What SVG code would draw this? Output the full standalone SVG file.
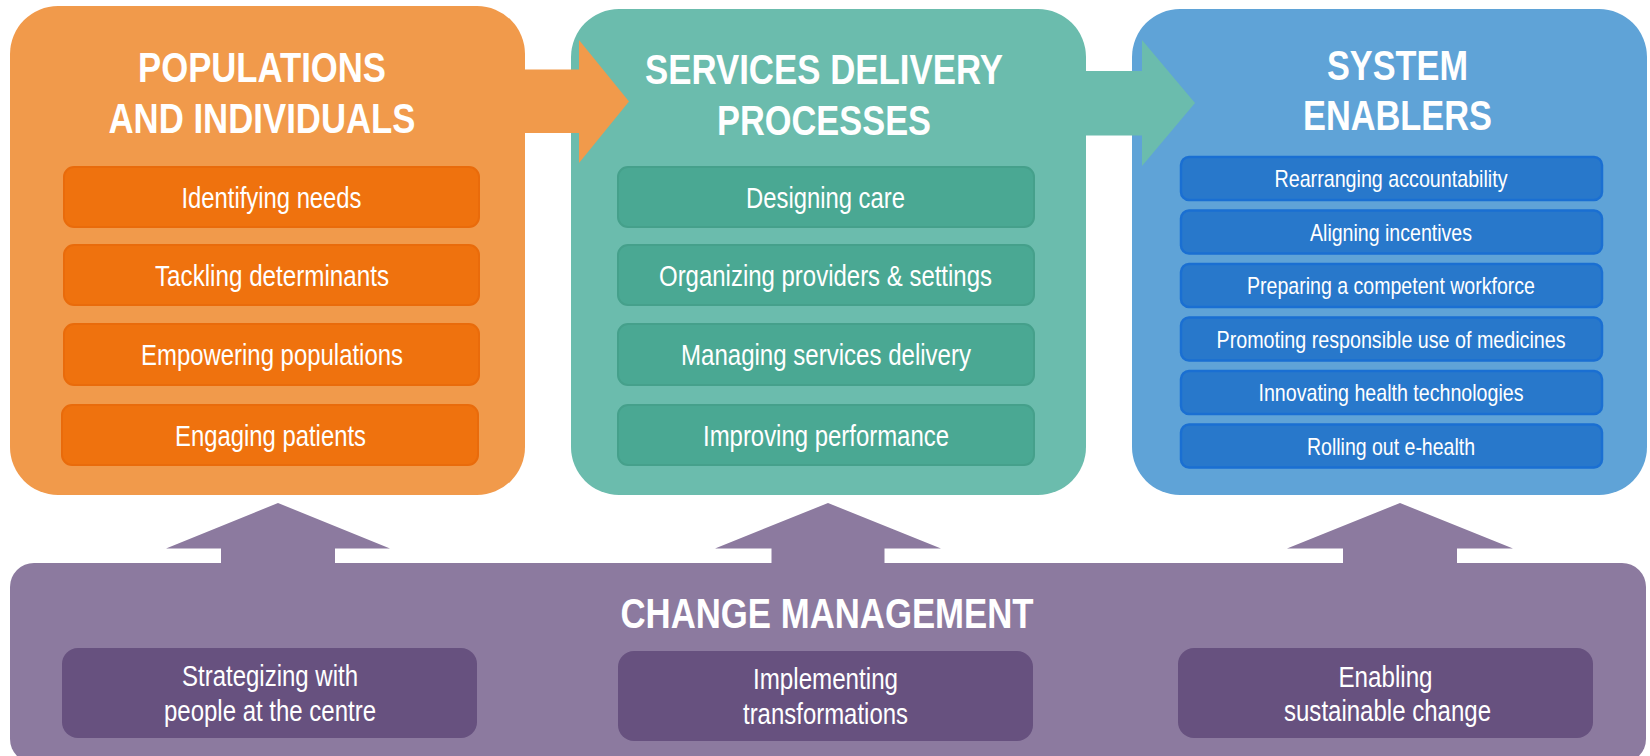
<svg xmlns="http://www.w3.org/2000/svg" width="1650" height="756" viewBox="0 0 1650 756">
<style>
text{font-family:"Liberation Sans Narrow","Arial Narrow","Liberation Sans",Arial,sans-serif;fill:#fff;text-anchor:middle}
.t{font-size:42px;font-weight:bold}
.s{font-size:29px}
.b{font-size:24px}
.ob{fill:#F19A4B}
.os{fill:#EF720E;stroke:#E96B0B;stroke-width:2}
.tb{fill:#6BBCAD}
.ts{fill:#4AA893;stroke:#45A08B;stroke-width:2}
.bb{fill:#5FA3D7}
.bs{fill:#2878CB;stroke:#1A6FD2;stroke-width:2.5}
.pb{fill:#8C7A9F}
.ps{fill:#67517F}
</style>
<g id="populations">
<rect class="ob" x="10" y="6" width="515" height="489" rx="48"/>
<text class="t" x="262" y="82" textLength="248" lengthAdjust="spacingAndGlyphs">POPULATIONS</text>
<text class="t" x="262" y="133" textLength="307" lengthAdjust="spacingAndGlyphs">AND INDIVIDUALS</text>
<rect class="os" x="64" y="167" width="415" height="60" rx="10"/>
<text class="s" x="271.5" y="208" textLength="180" lengthAdjust="spacingAndGlyphs">Identifying needs</text>
<rect class="os" x="64" y="245" width="415" height="60" rx="10"/>
<text class="s" x="272" y="286" textLength="234" lengthAdjust="spacingAndGlyphs">Tackling determinants</text>
<rect class="os" x="64" y="324" width="415" height="61" rx="10"/>
<text class="s" x="272" y="365" textLength="262" lengthAdjust="spacingAndGlyphs">Empowering populations</text>
<rect class="os" x="62" y="405" width="416" height="60" rx="10"/>
<text class="s" x="270.5" y="446" textLength="191" lengthAdjust="spacingAndGlyphs">Engaging patients</text>
</g>
<g id="services">
<rect class="tb" x="571" y="9" width="515" height="486" rx="48"/>
<text class="t" x="824" y="84" textLength="358" lengthAdjust="spacingAndGlyphs">SERVICES DELIVERY</text>
<text class="t" x="824" y="135" textLength="214" lengthAdjust="spacingAndGlyphs">PROCESSES</text>
<rect class="ts" x="618" y="167" width="416" height="60" rx="10"/>
<text class="s" x="825.5" y="208" textLength="159" lengthAdjust="spacingAndGlyphs">Designing care</text>
<rect class="ts" x="618" y="245" width="416" height="60" rx="10"/>
<text class="s" x="825.5" y="286" textLength="333" lengthAdjust="spacingAndGlyphs">Organizing providers &amp; settings</text>
<rect class="ts" x="618" y="324" width="416" height="61" rx="10"/>
<text class="s" x="826" y="365" textLength="290" lengthAdjust="spacingAndGlyphs">Managing services delivery</text>
<rect class="ts" x="618" y="405" width="416" height="60" rx="10"/>
<text class="s" x="826" y="446" textLength="246" lengthAdjust="spacingAndGlyphs">Improving performance</text>
</g>
<g id="enablers">
<rect class="bb" x="1132" y="9" width="515" height="486" rx="48"/>
<text class="t" x="1397.5" y="80" textLength="141" lengthAdjust="spacingAndGlyphs">SYSTEM</text>
<text class="t" x="1397.5" y="130" textLength="189" lengthAdjust="spacingAndGlyphs">ENABLERS</text>
<rect class="bs" x="1181" y="157" width="421" height="43" rx="8"/>
<text class="b" x="1391" y="187" textLength="233" lengthAdjust="spacingAndGlyphs">Rearranging accountability</text>
<rect class="bs" x="1181" y="210.5" width="421" height="43" rx="8"/>
<text class="b" x="1391" y="240.5" textLength="162" lengthAdjust="spacingAndGlyphs">Aligning incentives</text>
<rect class="bs" x="1181" y="264" width="421" height="43" rx="8"/>
<text class="b" x="1391" y="294" textLength="288" lengthAdjust="spacingAndGlyphs">Preparing a competent workforce</text>
<rect class="bs" x="1181" y="317.5" width="421" height="43" rx="8"/>
<text class="b" x="1391" y="347.5" textLength="349" lengthAdjust="spacingAndGlyphs">Promoting responsible use of medicines</text>
<rect class="bs" x="1181" y="371" width="421" height="43" rx="8"/>
<text class="b" x="1391" y="401" textLength="265" lengthAdjust="spacingAndGlyphs">Innovating health technologies</text>
<rect class="bs" x="1181" y="424.5" width="421" height="43" rx="8"/>
<text class="b" x="1391" y="454.5" textLength="168" lengthAdjust="spacingAndGlyphs">Rolling out e-health</text>
</g>
<g id="change">
<rect class="pb" x="10" y="563" width="1636" height="200" rx="24"/>
<text class="t" x="827" y="628" textLength="413" lengthAdjust="spacingAndGlyphs">CHANGE MANAGEMENT</text>
<rect class="ps" x="62" y="648" width="415" height="90" rx="16"/>
<text class="s" x="270" y="686" textLength="176" lengthAdjust="spacingAndGlyphs">Strategizing with</text>
<text class="s" x="270" y="721" textLength="212" lengthAdjust="spacingAndGlyphs">people at the centre</text>
<rect class="ps" x="618" y="651" width="415" height="90" rx="16"/>
<text class="s" x="825.5" y="689" textLength="145" lengthAdjust="spacingAndGlyphs">Implementing</text>
<text class="s" x="825.5" y="724" textLength="165" lengthAdjust="spacingAndGlyphs">transformations</text>
<rect class="ps" x="1178" y="648" width="415" height="90" rx="16"/>
<text class="s" x="1385.5" y="687" textLength="94" lengthAdjust="spacingAndGlyphs">Enabling</text>
<text class="s" x="1387.5" y="721" textLength="207" lengthAdjust="spacingAndGlyphs">sustainable change</text>
</g>
<g id="connectors">
<polygon fill="#F19A4B" points="520,69.5 579,69.5 579,40 629,101.5 579,163 579,133 520,133"/>
<polygon fill="#6BBCAD" points="1080,71 1142,71 1142,40 1195,103 1142,166 1142,135.5 1080,135.5"/>
<polygon class="pb" points="166,548.5 278,503 390,548.5 335,548.5 335,566 221,566 221,548.5"/>
<polygon class="pb" points="715,548.5 828,503 941,548.5 884.5,548.5 884.5,566 771.5,566 771.5,548.5"/>
<polygon class="pb" points="1287,548.5 1400,503 1513,548.5 1457,548.5 1457,566 1343,566 1343,548.5"/>
</g>
</svg>
